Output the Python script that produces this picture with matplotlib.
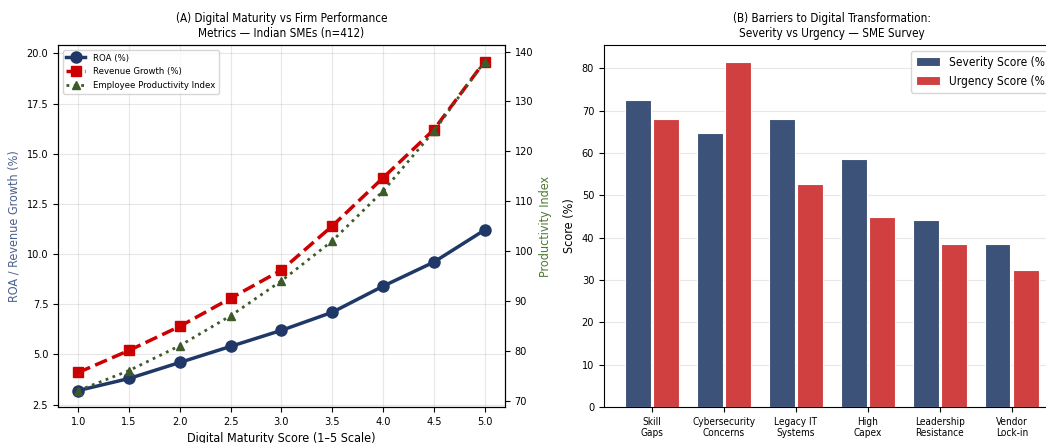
import matplotlib
matplotlib.use("Agg")
from matplotlib import pyplot as plt
import numpy as np

# panel A data
maturity = [1.0, 1.5, 2.0, 2.5, 3.0, 3.5, 4.0, 4.5, 5.0]
roa = [3.2, 3.8, 4.6, 5.4, 6.2, 7.1, 8.4, 9.6, 11.2]
revenue_growth = [4.1, 5.2, 6.4, 7.8, 9.2, 11.4, 13.8, 16.2, 19.6]
productivity = [72, 76, 81, 87, 94, 102, 112, 124, 138]

# panel B data
barriers = ["Skill\nGaps", "Cybersecurity\nConcerns", "Legacy IT\nSystems",
            "High\nCapex", "Leadership\nResistance", "Vendor\nLock-in"]
severity = [72.5, 64.8, 68.0, 58.5, 44.2, 38.4]
urgency = [68.1, 81.4, 52.6, 44.8, 38.5, 32.3]

plt.rcParams['font.family'] = ['DejaVu Sans']
plt.rcParams['font.stretch'] = 'condensed'
plt.rcParams['font.size'] = 8
plt.rcParams['xtick.labelsize'] = 7.8
plt.rcParams['ytick.labelsize'] = 7.8

fig = plt.figure(figsize=(10.46, 4.43), dpi=100)
axA = fig.add_axes([0.0554, 0.0813, 0.4273, 0.817])
axB = fig.add_axes([0.5774, 0.0813, 0.436, 0.817])

navy = '#1f3868'
red = '#cc0000'
green = '#3d5a2a'

# (A) lines
l1, = axA.plot(maturity, roa, color=navy, lw=2.5, marker='o', ms=8, label='ROA (%)')
l2, = axA.plot(maturity, revenue_growth, color=red, lw=2.5, ls='--', marker='s', ms=7,
               label='Revenue Growth (%)')
axA2 = axA.twinx()
l3, = axA2.plot(maturity, productivity, color=green, lw=2, ls=':', marker='^', ms=6,
                label='Employee Productivity Index')
axA.set_xticks(maturity)
axA.grid(True, alpha=0.3)
axA.set_xlabel('Digital Maturity Score (1–5 Scale)', fontsize=9)
axA.set_ylabel('ROA / Revenue Growth (%)', color='#4a5f8c', fontsize=9)
axA2.set_ylabel('Productivity Index', color='#4a7a30', fontsize=9)
axA.set_title('(A) Digital Maturity vs Firm Performance\nMetrics — Indian SMEs (n=412)', fontsize=8.4)
axA.legend(handles=[l1, l2, l3], loc='upper left', fontsize=6.8)

# (B) bars
x = np.arange(len(barriers))
axB.bar(x - 0.2, severity, width=0.36, color='#3d5278', edgecolor='white', lw=0.8,
        label='Severity Score (%)')
axB.bar(x + 0.2, urgency, width=0.36, color='#d04040', edgecolor='white', lw=0.8,
        label='Urgency Score (%)')
axB.set_xticks(x)
axB.set_xticklabels(barriers, fontsize=7.2)
axB.set_ylabel('Score (%)', fontsize=9)
axB.grid(True, axis='y', alpha=0.3)
axB.set_axisbelow(True)
axB.set_title('(B) Barriers to Digital Transformation:\nSeverity vs Urgency — SME Survey', fontsize=8.4)
axB.legend(loc='upper right', fontsize=8.6)

fig.savefig('out.png', dpi=100)
